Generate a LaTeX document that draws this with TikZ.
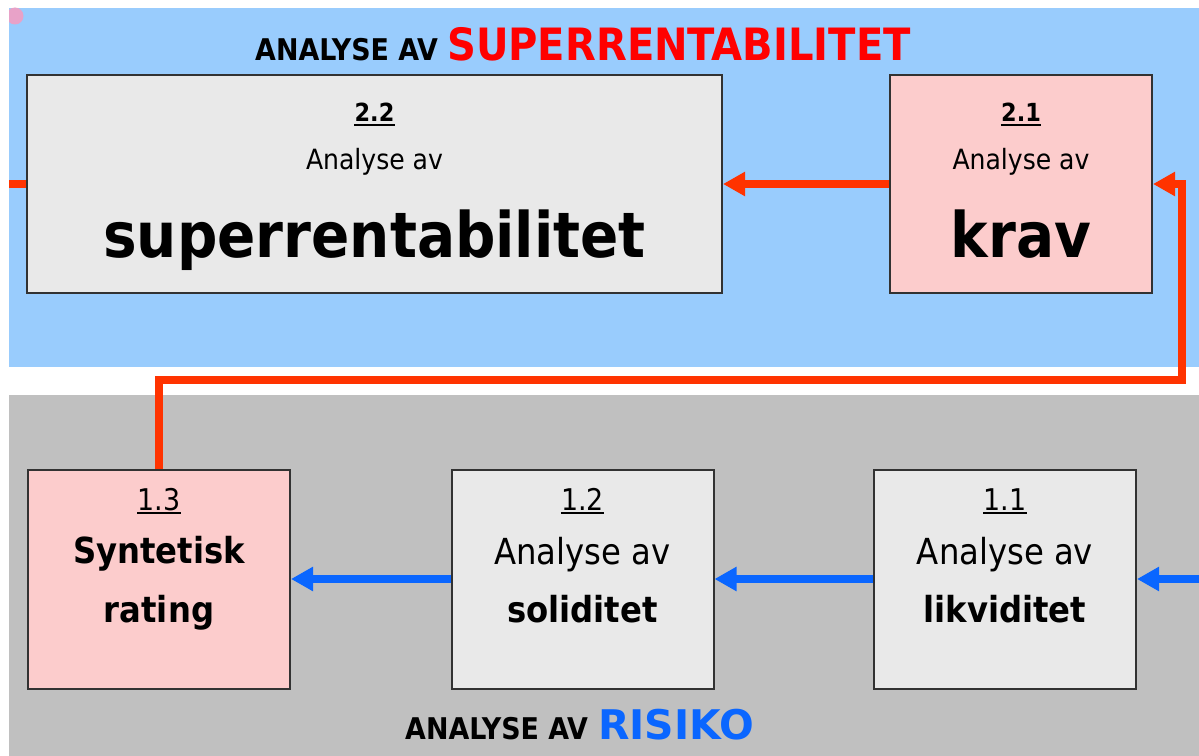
\documentclass[tikz,border=0pt]{standalone}
\usepackage{fontspec}
\setmainfont{DejaVu Sans Condensed}
\newfontfamily\verd{DejaVu Sans}
\usetikzlibrary{arrows.meta}
\definecolor{bandblue}{RGB}{153,204,253}
\definecolor{bandgray}{RGB}{192,192,192}
\definecolor{boxgray}{RGB}{233,233,233}
\definecolor{boxpink}{RGB}{252,204,204}
\definecolor{boxline}{RGB}{50,50,50}
\definecolor{lred}{RGB}{255,51,0}
\definecolor{lblue}{RGB}{10,102,255}
\definecolor{tred}{RGB}{255,0,0}
\definecolor{tblue}{RGB}{10,102,255}
\definecolor{dotpink}{RGB}{232,162,200}
\newcommand{\fs}[1]{\fontsize{#1}{#1}\selectfont}
\begin{document}
\begin{tikzpicture}[x=1bp,y=-1bp,
  boxg/.style={draw=boxline, line width=2bp, fill=boxgray, minimum width=262bp, minimum height=219bp, inner sep=0pt},
  boxp/.style={boxg, fill=boxpink},
  txt/.style={inner sep=0pt, anchor=base},
  numtop/.style={txt, font=\fs{25}\bfseries},
  numbot/.style={txt, font=\fs{30}},
  anl/.style={txt, font=\fs{28}},
  anlb/.style={txt, font=\fs{36}},
  big/.style={txt, font=\fs{63}\bfseries},
  mid/.style={txt, font=\fs{36}\bfseries},
  ul/.style={line width=2.5bp, black},
  redline/.style={draw=lred, line width=7.5bp},
  blueline/.style={draw=lblue, line width=7.5bp},
  tipa/.style={-{Triangle[length=22bp,width=23bp]}},
]
\useasboundingbox (0,0) rectangle (1199,756);
\fill[white] (0,0) rectangle (1199,756);
\fill[bandblue] (9,8) rectangle (1199,367);
\fill[bandgray] (9,395) rectangle (1199,756);
\begin{scope}
\clip (9,8) rectangle (40,40);
\fill[dotpink] (15,16) circle (8.5);
\end{scope}

% titles
\node[txt, anchor=base west, font=\fs{30}\bfseries] (t1) at (255,61) {ANALYSE AV};
\node[txt, anchor=base west, font=\fs{44.7}\bfseries, text=tred] (t2) at (447,61) {SUPERRENTABILITET};
\node[txt, anchor=base west, font=\fs{30}\bfseries] (t3) at (405,739) {ANALYSE AV};
\node[txt, anchor=base west, font=\verd\fs{41}\bfseries, text=tblue] (t4) at (598,739) {RISIKO};

% boxes
\node[boxg, minimum width=695bp, minimum height=218bp] (b22) at (374.5,184) {};
\node[boxp, minimum height=218bp] (b21) at (1021,184) {};
\node[boxp] (b13) at (159,579) {};
\node[boxg] (b12) at (582.5,579) {};
\node[boxg] (b11) at (1005,579) {};

% box texts
\node[numtop] (n22) at (374.5,121) {2.2};
\node[anl] (a22) at (374.5,169) {Analyse av};
\node[big] (w22) at (374.5,257) {superrentabilitet};
\node[numtop] (n21) at (1021,121) {2.1};
\node[anl] (a21) at (1021,169) {Analyse av};
\node[big] (w21) at (1021,257) {krav};

\node[numbot] (n13) at (159,510) {1.3};
\node[mid] (a13) at (159,563) {Syntetisk};
\node[mid] (w13) at (159,622) {rating};
\node[numbot] (n12) at (582.5,510) {1.2};
\node[anlb] (a12) at (582.5,564) {Analyse av};
\node[mid] (w12) at (582.5,622) {soliditet};
\node[numbot] (n11) at (1005,510) {1.1};
\node[anlb] (a11) at (1005,564) {Analyse av};
\node[mid] (w11) at (1005,622) {likviditet};

\foreach \n in {n22,n21}{\draw[ul] ([yshift=-4bp]\n.base west) -- ([yshift=-4bp]\n.base east);}
\foreach \n in {n13,n12,n11}{\draw[ul] ([yshift=-3bp]\n.base west) -- ([yshift=-3bp]\n.base east);}

% connectors
\coordinate (lin) at (9,184);
\coordinate (rin) at (1199,579);
\coordinate (rc) at (1182,380);
\draw[redline] (lin) -- (b22.west);
\draw[redline, tipa] (b21.west) -- (b22.east);
\draw[redline, tipa] (b13.north) |- (rc) |- (b21.east);
\draw[blueline, tipa] (rin) -- (b11.east);
\draw[blueline, tipa] (b11.west) -- (b12.east);
\draw[blueline, tipa] (b12.west) -- (b13.east);
\end{tikzpicture}
\end{document}
